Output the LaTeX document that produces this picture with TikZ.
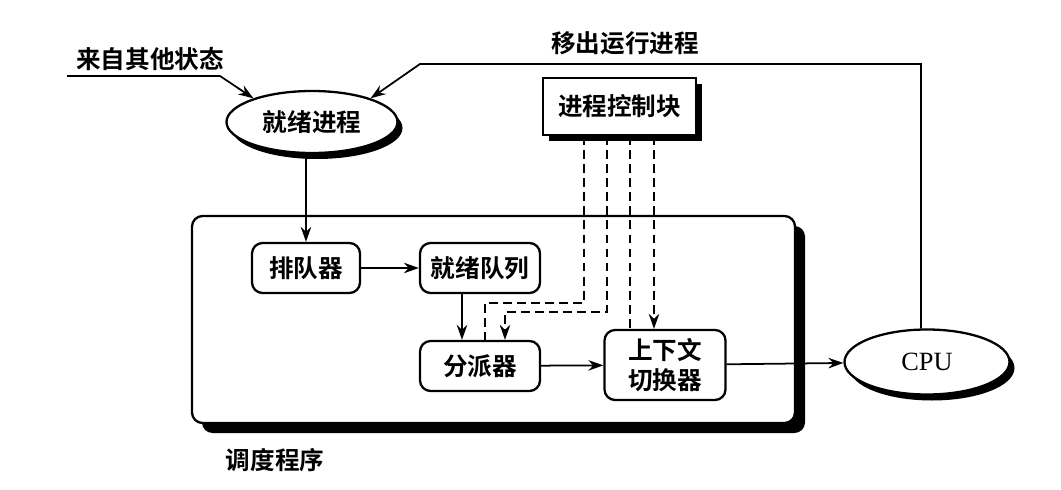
\documentclass[tikz,border=0pt]{standalone}
\usepackage{fontspec}
\setmainfont{Liberation Serif}
\newfontfamily\cjk{Noto Sans CJK SC}[BoldFont={Noto Sans CJK SC Bold}]
\usetikzlibrary{arrows.meta,positioning,calc,shapes.geometric,shadows}
\tikzset{
  >={Stealth[length=3mm,width=2.1mm]},
  % knoten
  ell/.style={ellipse,draw,line width=1.3pt,fill=white,inner sep=0pt,
              drop shadow={shadow xshift=0.1cm,shadow yshift=-0.12cm,opacity=1,fill=black}},
  blk/.style={rectangle,draw,line width=1.3pt,fill=white,inner sep=0pt,
              drop shadow={shadow xshift=0.12cm,shadow yshift=-0.13cm,opacity=1,fill=black}},
  box/.style={rectangle,rounded corners=6pt,draw,line width=1.3pt,fill=white,
              inner sep=0pt,minimum width=2.4cm,minimum height=1cm,align=center},
  frame/.style={rectangle,rounded corners=6pt,draw,line width=1.3pt,fill=white,
              drop shadow={shadow xshift=0.2cm,shadow yshift=-0.2cm,opacity=1,fill=black}},
  lbl/.style={font=\cjk\bfseries\fontsize{14}{16}\selectfont,inner sep=1pt},
  % linien
  fl/.style={->,line width=1pt},
  pcb/.style={line width=1pt,dash pattern=on 5pt off 3pt},
  pcba/.style={->,line width=1pt,dash pattern=on 5pt off 3pt},
}
\begin{document}
\begin{tikzpicture}
\useasboundingbox (0,0) rectangle (21.22,9.78);
  \node[frame,minimum width=12.06cm,minimum height=4.14cm] (sched) at (9.87,3.39) {};
  \node[lbl] (schedl) at (5.5,0.58) {调度程序};
  \node[ell,minimum width=3.42cm,minimum height=1.24cm,lbl] (ready) at (6.24,7.34) {就绪进程};
  \node[ell,minimum width=3.3cm,minimum height=1.3cm,font=\fontsize{15}{17}\selectfont] (cpu) at (18.54,2.54) {CPU};
  \node[blk,minimum width=3.06cm,minimum height=1.14cm,lbl] (pcb) at (12.39,7.65) {进程控制块};
  \node[box,lbl,minimum width=2.16cm] (queuer) at (6.12,4.42) {排队器};
  \node[box,lbl] (rqueue) at (9.6,4.42) {就绪队列};
  \node[box,lbl] (disp) at (9.6,2.46) {分派器};
  \node[box,lbl,minimum width=2.42cm,minimum height=1.4cm,
        font=\cjk\bfseries\fontsize{14}{17}\selectfont] (ctx) at (13.3,2.48) {上下文\\切换器};
  \node[lbl] (other) at (3.0,8.6) {来自其他状态};
  \node[lbl] (moveout) at (12.5,8.92) {移出运行进程};
  \coordinate (o1) at (1.34,8.26);
  \coordinate (o2) at (4.4,8.26);
  \coordinate (m1) at (8.4,8.5);
  \coordinate (m2) at ($(cpu.north)+(-0.12,0)$);
  % zustandsuebergaenge
  \draw[fl] (o1) -- (o2) -- (ready.158);
  \draw[fl] (m2) -- (m2 |- m1) -- (m1) -- (ready.22);
  \draw[fl] (queuer.north |- ready.south) -- (queuer.north);
  \draw[fl] (queuer) -- (rqueue);
  \draw[fl] ($(rqueue.south)+(-0.36,0)$) -- ($(disp.north)+(-0.36,0)$);
  \draw[fl] (disp) -- (ctx);
  \draw[fl] (ctx) -- (cpu);
  % pcb zugriffe
  \draw[pcb] (11.68,0 |- pcb.south) -- (11.68,3.72) -- (9.7,3.72) -- (9.7,0 |- disp.north);
  \draw[pcba] (12.14,0 |- pcb.south) -- (12.14,3.54) -- (10.1,3.54) -- (10.1,0 |- disp.north);
  \draw[pcb] (12.6,0 |- pcb.south) -- (12.6,0 |- ctx.north);
  \draw[pcba] (13.08,0 |- pcb.south) -- (13.08,0 |- ctx.north);
\end{tikzpicture}
\end{document}
